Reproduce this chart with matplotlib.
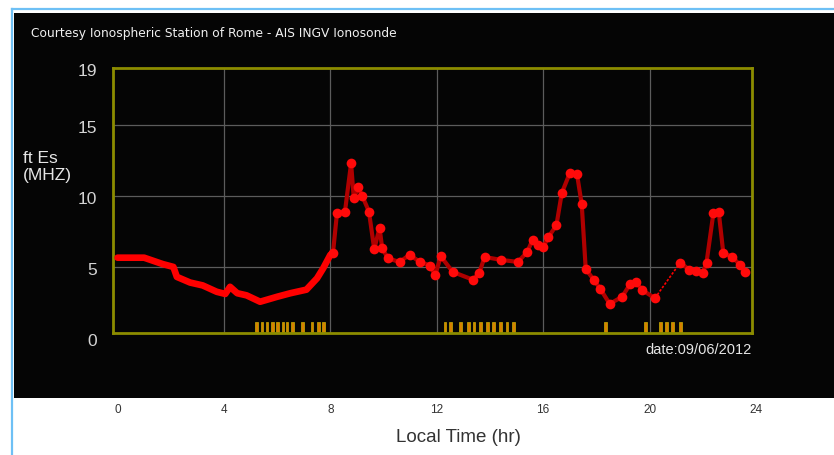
import matplotlib
matplotlib.use("Agg")
import matplotlib.pyplot as plt
import matplotlib.transforms as mtransforms
from matplotlib.patches import Rectangle
from matplotlib.lines import Line2D

# ---------------- data ----------------
# night / morning part (dense sampling, drawn as a thick line)
morning_t = [0.0, 1.0, 1.7, 2.1, 2.23, 2.73, 3.2, 3.73, 4.05, 4.23, 4.5, 4.85,
             5.36, 6.0, 6.5, 7.1, 7.5, 7.73, 8.0, 8.1]
morning_v = [5.65, 5.65, 5.2, 5.0, 4.3, 3.9, 3.7, 3.25, 3.1, 3.6, 3.15, 3.0,
             2.55, 2.9, 3.15, 3.4, 4.2, 4.9, 5.85, 6.0]

# day part (individual soundings with markers)
day_t = [8.1, 8.25, 8.55, 8.78, 8.88, 9.05, 9.2, 9.45, 9.65, 9.85, 9.95, 10.17,
         10.6, 10.98, 11.37, 11.75, 11.94, 12.15, 12.6, 13.36, 13.6, 13.8, 14.4,
         15.05, 15.4, 15.6, 15.8, 16.0, 16.2, 16.5, 16.7, 17.0, 17.27, 17.45,
         17.6, 17.9, 18.15, 18.5, 18.97, 19.27, 19.5, 19.7, 20.2]
day_v = [6.0, 8.8, 8.9, 12.3, 9.85, 10.6, 10.0, 8.9, 6.25, 7.75, 6.3, 5.6,
         5.35, 5.85, 5.35, 5.1, 4.4, 5.75, 4.65, 4.1, 4.6, 5.7, 5.5,
         5.35, 6.05, 6.9, 6.55, 6.4, 7.1, 7.95, 10.2, 11.6, 11.55, 9.4,
         4.85, 4.1, 3.45, 2.4, 2.9, 3.8, 3.95, 3.4, 2.8]

# evening part
eve_t = [21.15, 21.5, 21.75, 22.0, 22.14, 22.4, 22.6, 22.77, 23.1, 23.4, 23.6]
eve_v = [5.3, 4.8, 4.7, 4.6, 5.3, 8.8, 8.85, 6.0, 5.7, 5.15, 4.65]

# orange flags along the bottom of the plot
flag_t = [5.24, 5.43, 5.62, 5.81, 6.03, 6.22, 6.37, 6.56, 6.94, 7.31, 7.54, 7.76,
          12.31, 12.5, 12.88, 13.18, 13.4, 13.63, 13.9, 14.15, 14.38, 14.64, 14.87,
          18.33, 19.83, 20.4, 20.62, 20.85, 21.15]

x_ticks = [0, 4, 8, 12, 16, 20, 24]
y_ticks = [0, 5, 10, 15, 19]
title = "Courtesy Ionospheric Station of Rome - AIS INGV Ionosonde"
date_label = "date:09/06/2012"

# ---------------- figure ----------------
W, H = 834, 455
fig = plt.figure(figsize=(W / 100, H / 100), dpi=100, facecolor="white")
plt.rcParams['font.family'] = ['Liberation Sans', 'DejaVu Sans']

def fx(px):
    return px / W

def fy(py):
    return 1 - py / H

# light blue frame
fig.add_artist(Line2D([fx(11.5), fx(11.5)], [fy(8.5), 0], color="#6ec0f5", lw=1.6))
fig.add_artist(Line2D([fx(11.5), 1], [fy(8.5), fy(8.5)], color="#6ec0f5", lw=1.6))
# black panel
fig.add_artist(Rectangle((fx(14), fy(398)), fx(834 - 14), (398 - 13) / H,
                         transform=fig.transFigure, facecolor="#050505",
                         edgecolor="none", zorder=0))

left, right, top, bottom = 113, 752, 68, 333
ax = fig.add_axes([fx(left), fy(bottom), fx(right - left), (bottom - top) / H])
ax.set_facecolor("#050505")
ax.set_xlim(-0.17, 23.85)
ax.set_ylim(0.35, 19.0)

for s in ax.spines.values():
    s.set_color("#8c8c00")
    s.set_linewidth(2.0)

ax.set_xticks([4, 8, 12, 16, 20])
ax.set_yticks([5, 10, 15])
ax.tick_params(length=0, labelbottom=False, labelleft=False)
ax.grid(True, color="#5c5c5c", lw=0.9)
ax.set_axisbelow(True)

# flags
ax.bar(flag_t, 0.7, bottom=0.4, width=0.11, color="#d88000",
       edgecolor="#c8b000", lw=0.5, zorder=2)

# series
ax.plot(morning_t, morning_v, color="#ff0000", lw=4.8, solid_capstyle="round",
        solid_joinstyle="round", zorder=4)
ax.plot(day_t, day_v, color="#b00000", lw=3.0, zorder=4)
ax.plot(day_t, day_v, "o", color="#ff0a0a", ms=7, mec="none", zorder=5)
ax.plot([day_t[-1], eve_t[0]], [day_v[-1], eve_v[0]], color="#ff0000", lw=1.2,
        ls=(0, (1.5, 1.0)), zorder=4)
ax.plot(eve_t, eve_v, color="#b00000", lw=3.0, zorder=4)
ax.plot(eve_t, eve_v, "o", color="#ff0a0a", ms=7, mec="none", zorder=5)

# y tick labels
ytr = mtransforms.blended_transform_factory(ax.transAxes, ax.transData)
for v in y_ticks:
    ax.text(-0.025, v - 0.25, str(v), transform=ytr, ha="right", va="center",
            color="#d4d4d4", fontsize=12.5, clip_on=False)

# x tick labels (in white area below the black panel)
xtr = mtransforms.blended_transform_factory(ax.transData, fig.transFigure)
for t in x_ticks:
    ax.text(t, fy(410), str(t), transform=xtr, ha="center", va="center",
            color="#333333", fontsize=8.5, clip_on=False)

fig.text(fx(458), fy(438), "Local Time (hr)", ha="center", va="center",
         color="#333333", fontsize=13.5)
fig.text(fx(23), fy(167), "ft Es\n(MHZ)", ha="left", va="center",
         color="#e6e6e6", fontsize=12.5, linespacing=1.1)
fig.text(fx(31), fy(33), title, ha="left", va="center", color="#f0f0f0",
         fontsize=8.8, family=["DejaVu Sans"])
fig.text(fx(752), fy(350), date_label, ha="right", va="center",
         color="#e6e6e6", fontsize=10.5)

fig.savefig("out.png", dpi=100, facecolor="white")
